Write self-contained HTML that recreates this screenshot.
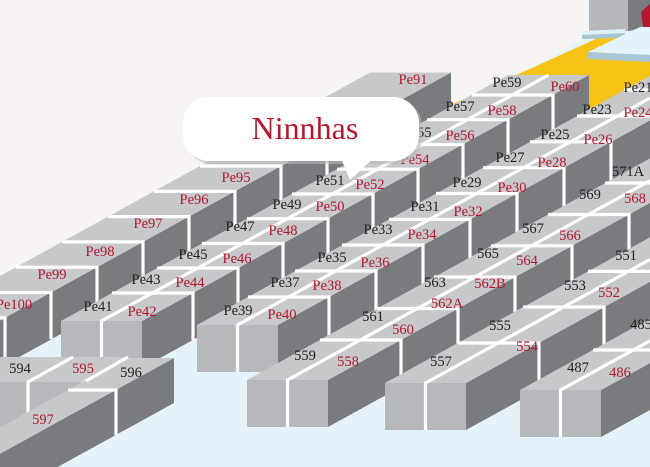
<!DOCTYPE html>
<html><head><meta charset="utf-8"><style>
html,body{margin:0;padding:0;background:#f7f4f3;width:650px;height:467px;overflow:hidden;}
svg{display:block;overflow:hidden;}
text{font-family:"Liberation Serif",serif;font-size:14.5px;text-anchor:middle;}
.r{fill:#b5172f}.k{fill:#222}
.t{fill:#c7c8ca}.s{fill:#7a7b7f}.e{fill:#b7b8bb}
.w{fill:none;stroke:#fff;stroke-width:3.2;stroke-linejoin:miter}
</style></head><body>
<svg width="650" height="467" viewBox="0 0 650 467" xmlns="http://www.w3.org/2000/svg">
<rect width="650" height="467" fill="#f7f4f3"/>
<polygon points="0,360 600,30 650,30 650,467 0,467" fill="#e4f3fa"/>
<polygon points="400,128 598,38 650,38 650,104 560,110 480,125" fill="#f6c315"/>
<rect x="589" y="0" width="40" height="31" fill="#b6b7ba"/>
<polygon points="628,0 650,0 650,28 628,31" fill="#7a7b7f"/>
<polygon points="641,12 650,4 650,32 643,26" fill="#b5172f"/>
<polygon points="582,31 625,29 625,35 582,37" fill="#dff0f7"/>
<polygon points="582,35 625,33 625,38 582,39" fill="#a9c6d4"/>
<polygon points="588,52 640,27 650,27 650,55" fill="#e4f3fa"/>
<polygon points="588,52 650,55 650,62 588,59" fill="#a9c6d4"/>

<polygon class="s" points="0,320.5 451,72.5 451,119.5 0,367.5"/>
<polygon class="t" points="0,276 0,320.5 451,72.5 370,72.5"/>
<polyline class="w" points="0,317.8 5,317.8 5,364"/>
<polyline class="w" points="0,292.5 51,292.5 51,339"/>
<polyline class="w" points="16,267.2 97,267.2 97,314"/>
<polyline class="w" points="62,241.9 143,241.9 143,289"/>
<polyline class="w" points="108,216.6 189,216.6 189,263"/>
<polyline class="w" points="154,191.3 235,191.3 235,238"/>
<polyline class="w" points="200,166 281,166 281,213"/>
<polyline class="w" points="246,140.7 327,140.7 327,187"/>
<polyline class="w" points="292,115.4 373,115.4 373,162"/>
<text class="r" x="14" y="309">Pe100</text>
<text class="r" x="52" y="279">Pe99</text>
<text class="r" x="100" y="256">Pe98</text>
<text class="r" x="148" y="228">Pe97</text>
<text class="r" x="194" y="204">Pe96</text>
<text class="r" x="236" y="182">Pe95</text>
<text class="r" x="413" y="84">Pe91</text>

<polygon class="s" points="142,321 589,75 589,122 142,368"/>
<polygon class="t" points="61,321 142,321 589,75 508,75"/>
<rect class="e" x="61" y="321" width="81" height="47"/>
<polyline class="w" points="101.5,368 101.5,321 548.5,75"/>
<polyline class="w" points="112,293 193,293 193,340"/>
<polyline class="w" points="157,268 238,268 238,315"/>
<polyline class="w" points="202,243.5 283,243.5 283,290"/>
<polyline class="w" points="247,218.7 328,218.7 328,266"/>
<polyline class="w" points="292,194 373,194 373,241"/>
<polyline class="w" points="337,169.2 418,169.2 418,216"/>
<polyline class="w" points="382,144.5 463,144.5 463,191"/>
<polyline class="w" points="427,119.7 508,119.7 508,167"/>
<polyline class="w" points="472,95 553,95 553,142"/>
<text class="k" x="98" y="311">Pe41</text><text class="r" x="142" y="316">Pe42</text>
<text class="k" x="146" y="284">Pe43</text><text class="r" x="190" y="287">Pe44</text>
<text class="k" x="193" y="259">Pe45</text><text class="r" x="237" y="263">Pe46</text>
<text class="k" x="240" y="231">Pe47</text><text class="r" x="283" y="235">Pe48</text>
<text class="k" x="287" y="209">Pe49</text><text class="r" x="330" y="211">Pe50</text>
<text class="k" x="330" y="185">Pe51</text><text class="r" x="370" y="189">Pe52</text>
<text class="k" x="375" y="161">Pe53</text><text class="r" x="415" y="164">Pe54</text>
<text class="k" x="417" y="137">Pe55</text><text class="r" x="460" y="140">Pe56</text>
<text class="k" x="460" y="111">Pe57</text><text class="r" x="502" y="115">Pe58</text>
<text class="k" x="507" y="87">Pe59</text><text class="r" x="565" y="91">Pe60</text>

<polygon class="s" points="278,325 650,120.4 650,167.4 278,372"/>
<polygon class="t" points="197,325 278,325 650,120.4 650,75.9"/>
<rect class="e" x="197" y="325" width="81" height="47"/>
<polyline class="w" points="237.5,372 237.5,325 650,98.1"/>
<polyline class="w" points="248,297 329,297 329,344"/>
<polyline class="w" points="295,271 376,271 376,318"/>
<polyline class="w" points="342,245 423,245 423,292"/>
<polyline class="w" points="389,219.4 470,219.4 470,266"/>
<polyline class="w" points="436,193.5 517,193.5 517,240"/>
<polyline class="w" points="483,167.7 564,167.7 564,215"/>
<polyline class="w" points="530,141.8 611,141.8 611,189"/>
<polyline class="w" points="577,116 650,116"/>
<polyline class="w" points="624,90 650,90"/>
<text class="k" x="238" y="315">Pe39</text><text class="r" x="282" y="319">Pe40</text>
<text class="k" x="285" y="287">Pe37</text><text class="r" x="327" y="290">Pe38</text>
<text class="k" x="332" y="262">Pe35</text><text class="r" x="375" y="267">Pe36</text>
<text class="k" x="378" y="234">Pe33</text><text class="r" x="422" y="239">Pe34</text>
<text class="k" x="425" y="211">Pe31</text><text class="r" x="468" y="216">Pe32</text>
<text class="k" x="467" y="187">Pe29</text><text class="r" x="512" y="192">Pe30</text>
<text class="k" x="510" y="162">Pe27</text><text class="r" x="552" y="167">Pe28</text>
<text class="k" x="555" y="139">Pe25</text><text class="r" x="598" y="144">Pe26</text>
<text class="k" x="597" y="114">Pe23</text><text class="r" x="638" y="117">Pe24</text>
<text class="k" x="638" y="92">Pe21</text>

<polygon class="s" points="328,380 650,202.9 650,249.9 328,427"/>
<polygon class="t" points="247,380 328,380 650,202.9 650,158.4"/>
<rect class="e" x="247" y="380" width="81" height="47"/>
<polyline class="w" points="287.5,427 287.5,380 650,180.6"/>
<polyline class="w" points="320,340 401,340 401,387"/>
<polyline class="w" points="377,308.5 458,308.5 458,355"/>
<polyline class="w" points="434,277 515,277 515,324"/>
<polyline class="w" points="491,245.8 572,245.8 572,293"/>
<polyline class="w" points="548,214.5 629,214.5 629,261"/>
<polyline class="w" points="605,183 650,183"/>
<text class="k" x="305" y="360">559</text><text class="r" x="348" y="366">558</text>
<text class="k" x="373" y="321">561</text><text class="r" x="403" y="334">560</text>
<text class="k" x="435" y="287">563</text><text class="r" x="447" y="308">562A</text>
<text class="r" x="490" y="288">562B</text>
<text class="k" x="488" y="258">565</text><text class="r" x="527" y="265">564</text>
<text class="k" x="533" y="233">567</text><text class="r" x="570" y="240">566</text>
<text class="k" x="590" y="199">569</text><text class="r" x="635" y="203">568</text>
<text class="k" x="628" y="176">571A</text>

<polygon class="s" points="466,383 650,281.8 650,328.8 466,430"/>
<polygon class="t" points="385,383 466,383 650,281.8 650,237.3"/>
<rect class="e" x="385" y="383" width="81" height="47"/>
<polyline class="w" points="425.5,430 425.5,383 650,259.5"/>
<polyline class="w" points="458,343 539,343 539,390"/>
<polyline class="w" points="523,307 604,307 604,354"/>
<polyline class="w" points="588,271.4 650,271.4"/>
<text class="k" x="441" y="366">557</text><text class="r" x="527" y="351">554</text>
<text class="k" x="500" y="330">555</text>
<text class="k" x="575" y="290">553</text><text class="r" x="609" y="297">552</text>
<text class="k" x="626" y="260">551</text>

<polygon class="s" points="601,390 650,363 650,410 601,437"/>
<polygon class="t" points="520,390 601,390 650,363 650,318.5"/>
<rect class="e" x="520" y="390" width="81" height="47"/>
<polyline class="w" points="560.5,437 560.5,390 650,340.8"/>
<polyline class="w" points="593,350 650,350"/>
<text class="k" x="578" y="372">487</text><text class="r" x="620" y="377">486</text>
<text class="k" x="641" y="329">485</text>

<polygon class="t" points="0,357 126,357 81,382 0,382"/>
<rect class="e" x="0" y="382" width="81" height="47"/>
<polyline class="w" points="73,357 28,382 28,415"/>
<text class="k" x="20" y="373">594</text><text class="r" x="83" y="373">595</text>
<polygon class="s" points="174,358 174,403 57.6,467 0,467 0,453.7"/>
<polygon class="t" points="126,358 174,358 0,453.7 0,427.3"/>
<line class="w" x1="128" y1="357" x2="86" y2="381"/>
<polyline class="w" points="68,390 116,390 116,435"/>
<text class="k" x="131" y="377">596</text>
<text class="r" x="43" y="424">597</text>

<rect x="186" y="100" width="236" height="64" rx="26" fill="#b9b9b9" opacity="0.6"/>
<polygon points="340,156 376,156 350,180" fill="#fff"/>
<rect x="183" y="97" width="236" height="64" rx="26" fill="#fff"/>
<text x="305" y="139" style="font-size:32px;fill:#b5172f;">Ninnhas</text>
</svg>
</body></html>
